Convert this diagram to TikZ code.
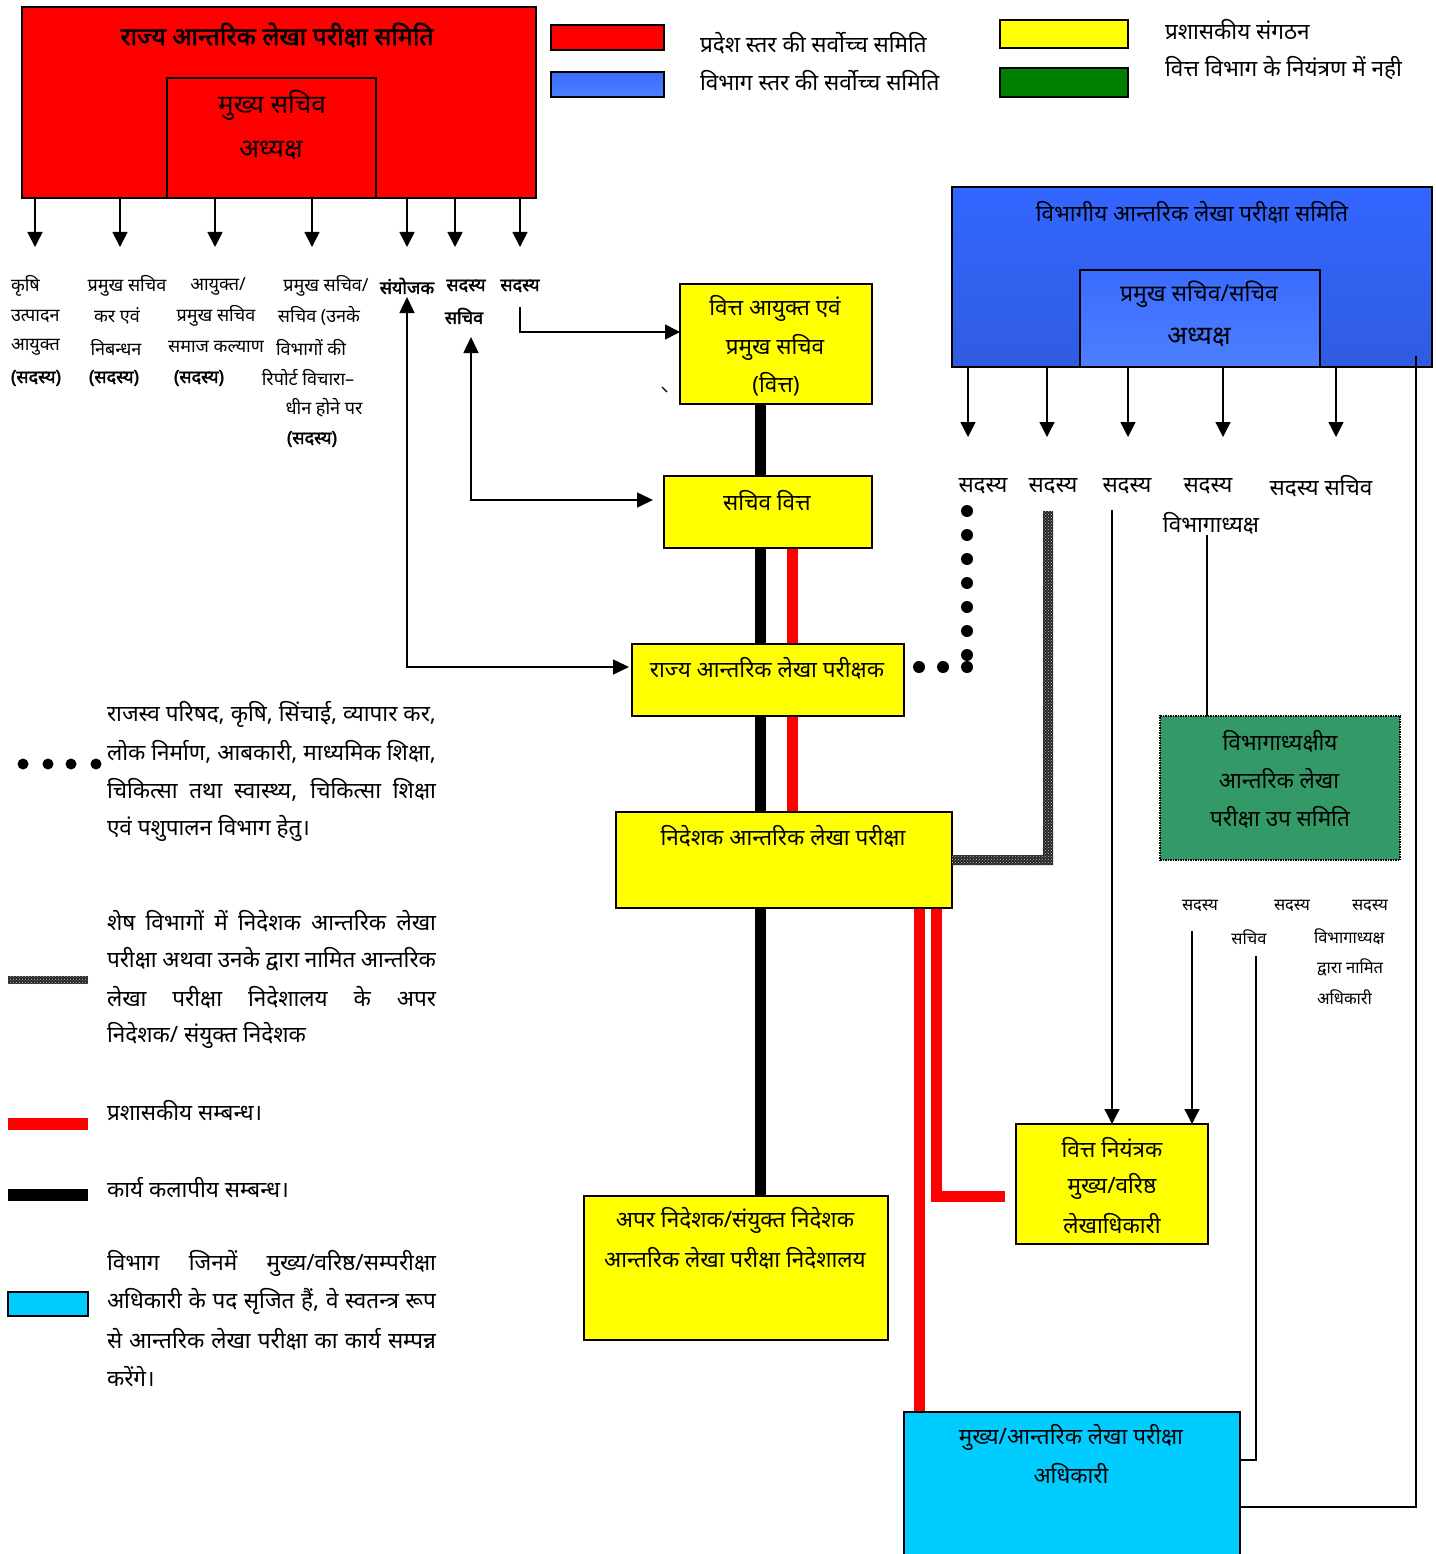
\documentclass[tikz,border=0pt]{standalone}
\usepackage{fontspec}
\setmainfont{Noto Sans}[Script=Devanagari,BoldFont={Noto Sans},BoldFeatures={FakeBold=2.2}]
\usetikzlibrary{arrows.meta,patterns}
\pgfdeclarelayer{bg}
\pgfsetlayers{bg,main}
\definecolor{cred}{HTML}{FF0000}
\definecolor{cyel}{HTML}{FFFF00}
\definecolor{cgrn}{HTML}{339966}
\definecolor{cdgrn}{HTML}{008000}
\definecolor{ccyan}{HTML}{00CCFF}
\definecolor{cblue}{HTML}{3366FF}
\definecolor{cblued}{HTML}{2F5CE0}
\definecolor{cbluel}{HTML}{4D7FFF}
\definecolor{cbluem}{HTML}{3A6CFF}
\begin{document}
\begin{tikzpicture}[x=1pt,y=-1pt,
 bx/.style={draw=black,line width=1.5pt,inner sep=0pt,outer sep=0pt,anchor=north west},
 tx/.style={inner sep=0pt,outer sep=0pt,font=\fontsize{22.5}{25}\selectfont},
 ts/.style={inner sep=0pt,outer sep=0pt,font=\fontsize{18}{20}\selectfont},
 tsb/.style={inner sep=0pt,outer sep=0pt,font=\bfseries\fontsize{18}{20}\selectfont},
 tg/.style={inner sep=0pt,outer sep=0pt,font=\fontsize{16.5}{18}\selectfont},
 tt/.style={inner sep=0pt,outer sep=0pt,font=\fontsize{26}{28}\selectfont},
 arr/.style={line width=1.5pt,-{Triangle[width=15pt,length=15pt]}},
 darr/.style={line width=1.5pt,{Triangle[width=15pt,length=16pt]}-{Triangle[width=15pt,length=16pt]}},
 ln/.style={line width=1.4pt},
 thk/.style={line width=11pt},
 hatchA/.style={fill=black!85},
 hatchB/.style={pattern=crosshatch dots,pattern color=black!25},
]
\useasboundingbox (0,0) rectangle (1435,1554);
\begin{pgfonlayer}{bg}
\fill[white] (0,0) rectangle (1435,1554);
\end{pgfonlayer}

% ---------- red state committee ----------
\node[bx,fill=cred,minimum width=514pt,minimum height=191pt] (red) at (22,7) {};
\node[bx,fill=cred,minimum width=209pt,minimum height=120pt] (redin) at (167,78) {};
\node[tt,font=\bfseries\fontsize{25}{28}\selectfont] (redt) at (277,35) {राज्य आन्तरिक लेखा परीक्षा समिति};
\node[tt] (redc1) at (272,105) {मुख्य सचिव};
\node[tt] (redc2) at (271,150) {अध्यक्ष};

% ---------- legend top ----------
\node[bx,fill=cred,minimum width=113pt,minimum height=25pt] (lgr) at (551,25) {};
\node[bx,top color=cbluem,bottom color=cbluel,minimum width=113pt,minimum height=25pt] (lgb) at (551,72) {};
\node[bx,fill=cyel,minimum width=128pt,minimum height=28pt] (lgy) at (1000,20) {};
\node[bx,fill=cdgrn,minimum width=128pt,minimum height=29pt] (lgg) at (1000,68) {};
\node[tx,anchor=west] (lgrt) at (700,43) {प्रदेश स्तर की सर्वोच्च समिति};
\node[tx,anchor=west] (lgbt) at (700,81) {विभाग स्तर की सर्वोच्च समिति};
\node[tx,anchor=west] (lgyt) at (1165,30) {प्रशासकीय संगठन};
\node[tx,anchor=west] (lggt) at (1165,68) {वित्त विभाग के नियंत्रण में नही};

% ---------- red members ----------
\foreach \i/\x in {1/35,2/120,3/215,4/312,5/407,6/455,7/520}{
  \coordinate (ra\i) at (\x,247);
  \draw[arr] (ra\i |- red.south) -- (ra\i);
}
\node[ts,anchor=west] (m1a) at (11,286) {कृषि};
\node[ts,anchor=west] (m1b) at (11,316) {उत्पादन};
\node[ts,anchor=west] (m1c) at (11,347) {आयुक्त};
\node[tsb,anchor=west] (m1d) at (11,378) {(सदस्य)};
\node[ts] (m2a) at (127,286) {प्रमुख सचिव};
\node[ts] (m2b) at (117,316) {कर एवं};
\node[ts] (m2c) at (116,347) {निबन्धन};
\node[tsb] (m2d) at (114,378) {(सदस्य)};
\node[ts] (m3a) at (218,286) {आयुक्त/};
\node[ts] (m3b) at (216,316) {प्रमुख सचिव};
\node[ts] (m3c) at (216,347) {समाज कल्याण};
\node[tsb] (m3d) at (199,378) {(सदस्य)};
\node[ts] (m4a) at (326,286) {प्रमुख सचिव/};
\node[ts] (m4b) at (319,316) {सचिव (उनके};
\node[ts] (m4c) at (311,347) {विभागों की};
\node[ts] (m4d) at (308,378) {रिपोर्ट विचारा–};
\node[ts] (m4e) at (324,408) {धीन होने पर};
\node[tsb] (m4f) at (312,439) {(सदस्य)};
\node[tsb] (m5) at (407,286) {संयोजक};
\node[tsb] (m6a) at (466,286) {सदस्य};
\node[tsb] (m6b) at (464,316) {सचिव};
\node[tsb] (m7) at (520,286) {सदस्य};

% ---------- yellow boxes ----------
\node[bx,fill=cyel,minimum width=192pt,minimum height=120pt] (box1) at (680,284) {};
\node[tx] (b1a) at (775,308) {वित्त आयुक्त एवं};
\node[tx] (b1b) at (775,347) {प्रमुख सचिव};
\node[tx] (b1c) at (776,384) {(वित्त)};
\node[bx,fill=cyel,minimum width=208pt,minimum height=72pt] (box2) at (664,476) {};
\node[tx] (b2a) at (767,501) {सचिव वित्त};
\node[bx,fill=cyel,minimum width=272pt,minimum height=72pt] (box3) at (632,644) {};
\node[tx] (b3a) at (767,668) {राज्य आन्तरिक लेखा परीक्षक};
\node[bx,fill=cyel,minimum width=336pt,minimum height=96pt] (box4) at (616,812) {};
\node[tx] (b4a) at (783,836) {निदेशक आन्तरिक लेखा परीक्षा};
\node[bx,fill=cyel,minimum width=304pt,minimum height=144pt] (box5) at (584,1196) {};
\node[tx] (b5a) at (735,1220) {अपर निदेशक/संयुक्त निदेशक};
\node[tx] (b5b) at (735,1258) {आन्तरिक लेखा परीक्षा निदेशालय};
\node[bx,fill=cyel,minimum width=192pt,minimum height=120pt] (box6) at (1016,1124) {};
\node[tx] (b6a) at (1112,1148) {वित्त नियंत्रक};
\node[tx] (b6b) at (1112,1186) {मुख्य/वरिष्ठ};
\node[tx] (b6c) at (1112,1224) {लेखाधिकारी};
\node[bx,fill=ccyan,minimum width=336pt,minimum height=150pt] (cyan) at (904,1412) {};
\node[tx] (cya) at (1071,1437) {मुख्य/आन्तरिक लेखा परीक्षा};
\node[tx] (cyb) at (1071,1474) {अधिकारी};

% stray tick
\draw[line width=1.2pt] (662,387) -- (667,392);

% ---------- connectors from red members ----------
\coordinate (sA) at (520,307); \coordinate (sAk) at (520,332);
\draw[arr] (sA) -- (sAk) -- (sAk -| box1.west);
\coordinate (sB) at (471,337); \coordinate (sBk) at (471,500);
\draw[darr,shorten >=11pt] (sB) -- (sBk) -- (sBk -| box2.west);
\coordinate (sC) at (407,297); \coordinate (sCk) at (407,667);
\draw[darr,shorten >=3pt] (sC) -- (sCk) -- (sCk -| box3.west);

% ---------- thick relation lines ----------
\begin{pgfonlayer}{bg}
\coordinate (kx) at (760,0);
\draw[thk,black] (kx |- box1.south) -- (kx |- box5.north);
\coordinate (rx1) at (792,0);
\draw[thk,cred] (rx1 |- box2.south) -- (rx1 |- box4.north);
\coordinate (rx2) at (919,0);
\draw[thk,cred] (rx2 |- box4.south) -- (rx2 |- cyan.north);
\coordinate (rx3) at (936,1196); \coordinate (rx3e) at (1005,1196);
\draw[thk,cred] (rx3 |- box4.south) -- (rx3) -- (rx3e);
\end{pgfonlayer}

% ---------- blue department committee ----------
\node[bx,top color=cblue,bottom color=cblued,minimum width=480pt,minimum height=180pt] (blue) at (952,187) {};
\node[bx,top color=cbluem,bottom color=cbluel,minimum width=240pt,minimum height=97pt] (bluein) at (1080,270) {};
\node[tx] (bluet) at (1192,212) {विभागीय आन्तरिक लेखा परीक्षा समिति};
\node[tx,font=\fontsize{23}{25}\selectfont] (bluec1) at (1199,294) {प्रमुख सचिव/सचिव};
\node[tt] (bluec2) at (1199,337) {अध्यक्ष};
\foreach \i/\x in {1/968,2/1047,3/1128,4/1223,5/1336}{
  \coordinate (ba\i) at (\x,437);
  \draw[arr] (ba\i |- blue.south) -- (ba\i);
}
\node[tx] (d1) at (983,486) {सदस्य};
\node[tx] (d2) at (1053,486) {सदस्य};
\node[tx] (d3) at (1127,486) {सदस्य};
\node[tx] (d4) at (1208,486) {सदस्य};
\node[tx] (d5) at (1321,486) {सदस्य सचिव};
\node[tx] (d4b) at (1211,523) {विभागाध्यक्ष};

% dotted link
\foreach \y in {511,535,559,583,607,631,655,667} \fill (967,\y) circle (6pt);
\foreach \x in {919,943} \fill (\x,667) circle (6pt);

% hatched link (from member to director box)
\coordinate (h1) at (1048,511); \coordinate (h2) at (1048,860);
\coordinate (h3) at (h2 -| box4.east);
\foreach \s in {hatchA,hatchB}{
  \path[\s] ([xshift=-5pt]h1) -- ([xshift=5pt]h1) -- ([xshift=5pt,yshift=-5pt]h2)
    -- ([yshift=-5pt]h3) -- ([yshift=5pt]h3) -- ([xshift=-5pt,yshift=5pt]h2) -- cycle;
}

% thin links
\coordinate (v3) at (1112,510);
\draw[arr,line width=1.3pt] (v3) -- (v3 |- box6.north);
\coordinate (vh) at (1207,535);

% ---------- green sub committee ----------
\node[bx,fill=cgrn,dash pattern=on 1.5pt off 1pt,minimum width=240pt,minimum height=144pt] (grn) at (1160,716) {};
\draw[ln] (vh) -- (vh |- grn.north);
\node[tx] (g1) at (1280,741) {विभागाध्यक्षीय};
\node[tx] (g2) at (1279,779) {आन्तरिक लेखा};
\node[tx] (g3) at (1280,817) {परीक्षा उप समिति};
\node[tg] (s1) at (1200,906) {सदस्य};
\node[tg] (s2) at (1292,906) {सदस्य};
\node[tg] (s3) at (1370,906) {सदस्य};
\node[tg] (s2b) at (1249,937) {सचिव};
\node[tg,anchor=west] (s3b) at (1314,937) {विभागाध्यक्ष};
\node[tg,anchor=west] (s3c) at (1317,967) {द्वारा नामित};
\node[tg,anchor=west] (s3d) at (1317,997) {अधिकारी};
\coordinate (q1) at (1192,931);
\draw[arr,line width=1.3pt] (q1) -- (q1 |- box6.north);
\coordinate (q2) at (1256,956); \coordinate (q2b) at (1256,1460);
\draw[ln] (q2) -- (q2b) -- (q2b -| cyan.east);
\coordinate (rv) at (1416,356); \coordinate (rvb) at (1416,1507);
\draw[ln] (rv) -- (rvb) -- (rvb -| cyan.east);

% ---------- left legend ----------
\foreach \x in {23,48,71,96} \fill (\x,764) circle (5.5pt);
\node[tx,anchor=west] (p1a) at (107,714) {\makebox[329pt][s]{राजस्व परिषद, कृषि, सिंचाई, व्यापार कर,}};
\node[tx,anchor=west] (p1b) at (107,752) {\makebox[329pt][s]{लोक निर्माण, आबकारी, माध्यमिक शिक्षा,}};
\node[tx,anchor=west] (p1c) at (107,790) {\makebox[329pt][s]{चिकित्सा तथा स्वास्थ्य, चिकित्सा शिक्षा}};
\node[tx,anchor=west] (p1d) at (107,828) {एवं पशुपालन विभाग हेतु।};

\foreach \s in {hatchA,hatchB}{\path[\s] (8,976) rectangle (88,984);}
\node[tx,anchor=west] (p2a) at (107,921) {\makebox[329pt][s]{शेष विभागों में निदेशक आन्तरिक लेखा}};
\node[tx,anchor=west] (p2b) at (107,959) {\makebox[329pt][s]{परीक्षा अथवा उनके द्वारा नामित आन्तरिक}};
\node[tx,anchor=west] (p2c) at (107,997) {\makebox[329pt][s]{लेखा\hfill परीक्षा\hfill निदेशालय\hfill के\hfill अपर}};
\node[tx,anchor=west] (p2d) at (107,1035) {निदेशक/ संयुक्त निदेशक};

\node[bx,draw=none,fill=cred,minimum width=80pt,minimum height=12pt] (lred) at (8,1118) {};
\node[tx,anchor=west] (lredt) at (107,1111) {प्रशासकीय सम्बन्ध।};
\node[bx,draw=none,fill=black,minimum width=80pt,minimum height=12pt] (lblk) at (8,1189) {};
\node[tx,anchor=west] (lblkt) at (107,1188) {कार्य कलापीय सम्बन्ध।};

\node[bx,fill=ccyan,minimum width=80pt,minimum height=24pt] (lcy) at (8,1292) {};
\node[tx,anchor=west] (p3a) at (107,1263) {\makebox[329pt][s]{विभाग जिनमें मुख्य/वरिष्ठ/सम्परीक्षा}};
\node[tx,anchor=west] (p3b) at (107,1301) {\makebox[329pt][s]{अधिकारी के पद सृजित हैं, वे स्वतन्त्र रूप}};
\node[tx,anchor=west] (p3c) at (107,1339) {\makebox[329pt][s]{से आन्तरिक लेखा परीक्षा का कार्य सम्पन्न}};
\node[tx,anchor=west] (p3d) at (107,1377) {करेंगे।};
\end{tikzpicture}
\end{document}
